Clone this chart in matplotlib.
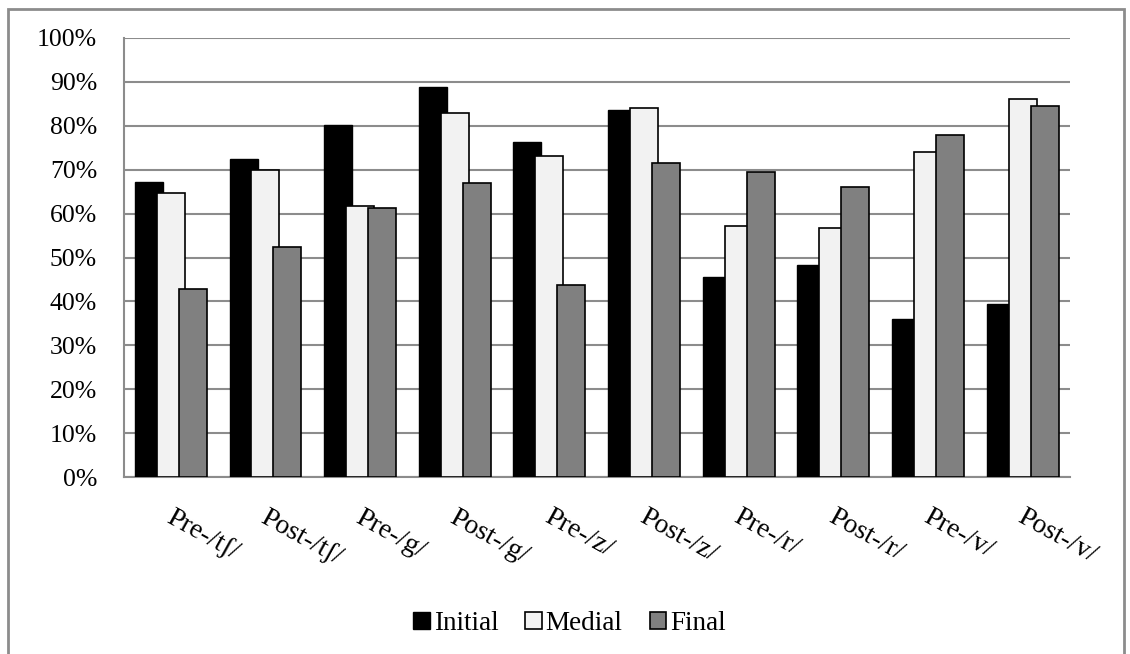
import numpy as np
import matplotlib
matplotlib.use("Agg")
import matplotlib.pyplot as plt
from matplotlib.patches import Rectangle
import matplotlib.transforms as mtransforms

# datos
categorias = ['Pre-/tʃ/', 'Post-/tʃ/', 'Pre-/g/', 'Post-/g/', 'Pre-/z/',
              'Post-/z/', 'Pre-/r/', 'Post-/r/', 'Pre-/v/', 'Post-/v/']
initial = [67.2, 72.4, 80.2, 88.8, 76.3, 83.6, 45.6, 48.3, 36.0, 39.4]
medial = [64.7, 69.9, 61.7, 82.9, 73.1, 84.1, 57.2, 56.7, 74.0, 86.1]
final = [42.8, 52.4, 61.3, 67.0, 43.7, 71.5, 69.5, 66.1, 77.9, 84.5]
series = ['Initial', 'Medial', 'Final']
y_ticks = np.arange(0, 101, 10)

plt.rcParams['font.family'] = ['Liberation Serif']
fs_y = 18.5
fs_x = 20
fs_leg = 19.5

fig = plt.figure(figsize=(11.3, 6.54), dpi=100)
ax = fig.add_axes([0.1093, 0.2706, 0.8376, 0.6713])

# borde del gráfico
fig.patches.append(Rectangle((8 / 1130, -0.02), 1116 / 1130, 1.0 - 9 / 654 + 0.02,
                             transform=fig.transFigure, fill=False,
                             edgecolor='#8c8c8c', lw=2, clip_on=False))

x = np.arange(len(categorias))
paso = 0.232
ancho = 0.296
ax.bar(x - paso, initial, ancho, color='black', edgecolor='black', lw=1,
       label=series[0], zorder=3)
ax.bar(x, medial, ancho, color='#f2f2f2', edgecolor='black', lw=1.2,
       label=series[1], zorder=4)
ax.bar(x + paso, final, ancho, color='#808080', edgecolor='black', lw=1.2,
       label=series[2], zorder=5)

ax.set_xlim(-0.5, len(categorias) - 0.5)
ax.set_ylim(0, 100)
ax.set_yticks(y_ticks)
ax.set_yticklabels(['%d%%' % v for v in y_ticks], fontsize=fs_y)
ax.yaxis.grid(True, color='#8c8c8c', lw=1.5, zorder=0)
ax.set_axisbelow(True)
ax.tick_params(axis='y', length=0, pad=19)

ax.set_xticks(x)
ax.set_xticklabels(categorias, fontsize=fs_x, rotation=-29, ha='left',
                   va='top', rotation_mode='anchor')
ax.tick_params(axis='x', length=0, pad=20)
offset = mtransforms.ScaledTranslation(3 / 100, 0, fig.dpi_scale_trans)
for lbl in ax.get_xticklabels():
    lbl.set_transform(lbl.get_transform() + offset)

for s in ['top', 'right']:
    ax.spines[s].set_visible(False)
for s in ['left', 'bottom']:
    ax.spines[s].set_color('#8c8c8c')
    ax.spines[s].set_linewidth(1.5)

fig.legend(loc='center', bbox_to_anchor=(0.504, 0.047), ncol=3, frameon=False,
           fontsize=fs_leg, handlelength=0.6, handleheight=0.6,
           handletextpad=0.15, columnspacing=1.0)

fig.savefig('out.png', dpi=100)
